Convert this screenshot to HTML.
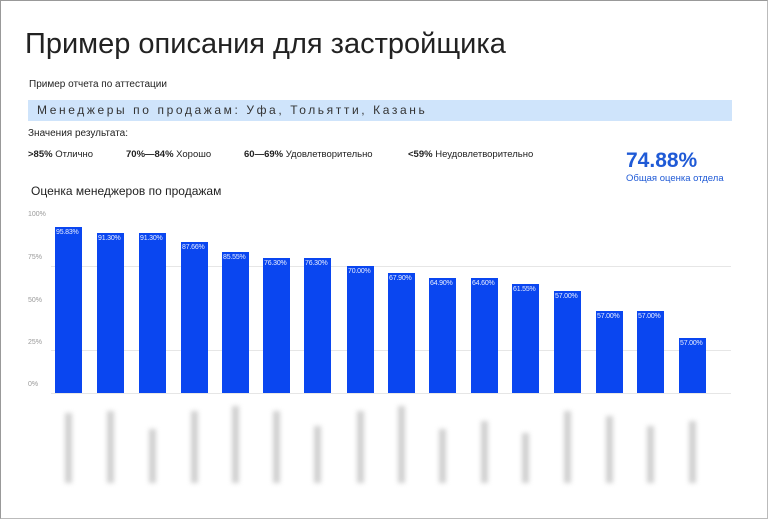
<!DOCTYPE html>
<html><head><meta charset="utf-8"><style>
*{margin:0;padding:0;box-sizing:border-box}
body{width:768px;height:519px;background:#fff;position:relative;overflow:hidden;font-family:"Liberation Sans","DejaVu Sans",sans-serif;color:#222;border-top:1px solid #999;border-left:1px solid #999;border-right:1px solid #bbb;border-bottom:1px solid #bbb}
.a{position:absolute;white-space:nowrap}
.bar{position:absolute;width:27px;background:#0a46f0}
.bl{position:absolute;width:30px;font-size:7px;color:#e8eeff;text-align:left;top:2px;left:1px;letter-spacing:-0.2px}
.g{position:absolute;left:50px;width:680px;height:1px;background:#e6e6e6}
.yl{position:absolute;left:27px;font-size:7px;color:#999}
.blur{position:absolute;width:7px;background:#aaa;filter:blur(2.5px);opacity:.55}
</style></head><body>
<div class="a" style="left:24px;top:27px;font-size:29px;color:#222;letter-spacing:0">Пример описания для застройщика</div>
<div class="a" style="left:28px;top:78px;font-size:10px">Пример отчета по аттестации</div>
<div class="a" style="left:27px;top:99px;width:704px;height:21px;background:#cfe4fb"></div>
<div class="a" style="left:36px;top:102px;font-size:12px;letter-spacing:2.6px;color:#333">Менеджеры по продажам: Уфа, Тольятти, Казань</div>
<div class="a" style="left:27px;top:127px;font-size:10px">Значения результата:</div>
<div class="a" style="left:27px;top:148px;font-size:9.5px"><b>&gt;85%</b> Отлично</div>
<div class="a" style="left:125px;top:148px;font-size:9.5px"><b>70%—84%</b> Хорошо</div>
<div class="a" style="left:243px;top:148px;font-size:9.5px"><b>60—69%</b> Удовлетворительно</div>
<div class="a" style="left:407px;top:148px;font-size:9.5px"><b>&lt;59%</b> Неудовлетворительно</div>
<div class="a" style="left:625px;top:148px;font-size:21px;font-weight:bold;color:#1f5ad6">74.88%</div>
<div class="a" style="left:625px;top:172px;font-size:9.5px;color:#1f5ad6">Общая оценка отдела</div>
<div class="a" style="left:30px;top:183px;font-size:12px">Оценка менеджеров по продажам</div>
<div class="yl" style="top:210px">100%</div>
<div class="yl" style="top:253px">75%</div>
<div class="yl" style="top:296px">50%</div>
<div class="yl" style="top:338px">25%</div>
<div class="yl" style="top:380px">0%</div>
<div class="g" style="top:265px"></div>
<div class="g" style="top:349px"></div>
<div class="g" style="top:392px"></div>
<div class="bar" style="left:54px;top:226px;height:166px"><span class="bl">95.83%</span></div>
<div class="bar" style="left:96px;top:232px;height:160px"><span class="bl">91.30%</span></div>
<div class="bar" style="left:138px;top:232px;height:160px"><span class="bl">91.30%</span></div>
<div class="bar" style="left:180px;top:241px;height:151px"><span class="bl">87.66%</span></div>
<div class="bar" style="left:221px;top:251px;height:141px"><span class="bl">85.55%</span></div>
<div class="bar" style="left:262px;top:257px;height:135px"><span class="bl">76.30%</span></div>
<div class="bar" style="left:303px;top:257px;height:135px"><span class="bl">76.30%</span></div>
<div class="bar" style="left:346px;top:265px;height:127px"><span class="bl">70.00%</span></div>
<div class="bar" style="left:387px;top:272px;height:120px"><span class="bl">67.90%</span></div>
<div class="bar" style="left:428px;top:277px;height:115px"><span class="bl">64.90%</span></div>
<div class="bar" style="left:470px;top:277px;height:115px"><span class="bl">64.60%</span></div>
<div class="bar" style="left:511px;top:283px;height:109px"><span class="bl">61.55%</span></div>
<div class="bar" style="left:553px;top:290px;height:102px"><span class="bl">57.00%</span></div>
<div class="bar" style="left:595px;top:310px;height:82px"><span class="bl">57.00%</span></div>
<div class="bar" style="left:636px;top:310px;height:82px"><span class="bl">57.00%</span></div>
<div class="bar" style="left:678px;top:337px;height:55px"><span class="bl">57.00%</span></div>
<div class="blur" style="left:64px;top:412px;height:70px"></div>
<div class="blur" style="left:106px;top:410px;height:72px"></div>
<div class="blur" style="left:148px;top:428px;height:54px"></div>
<div class="blur" style="left:190px;top:410px;height:72px"></div>
<div class="blur" style="left:231px;top:405px;height:77px"></div>
<div class="blur" style="left:272px;top:410px;height:72px"></div>
<div class="blur" style="left:313px;top:425px;height:57px"></div>
<div class="blur" style="left:356px;top:410px;height:72px"></div>
<div class="blur" style="left:397px;top:405px;height:77px"></div>
<div class="blur" style="left:438px;top:428px;height:54px"></div>
<div class="blur" style="left:480px;top:420px;height:62px"></div>
<div class="blur" style="left:521px;top:432px;height:50px"></div>
<div class="blur" style="left:563px;top:410px;height:72px"></div>
<div class="blur" style="left:605px;top:415px;height:67px"></div>
<div class="blur" style="left:646px;top:425px;height:57px"></div>
<div class="blur" style="left:688px;top:420px;height:62px"></div>
</body></html>
